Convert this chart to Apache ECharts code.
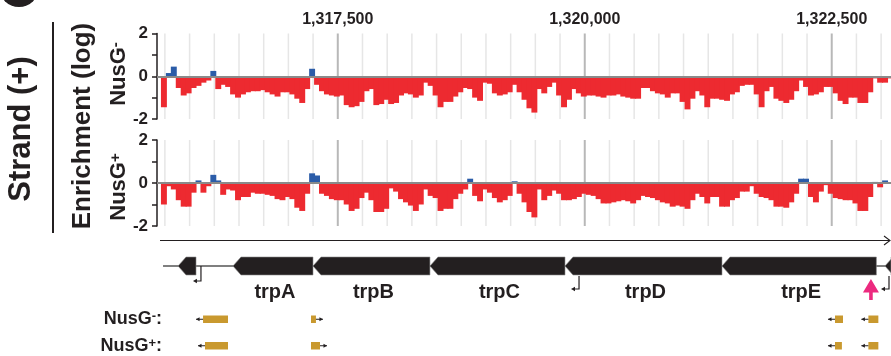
<!DOCTYPE html>
<html><head><meta charset="utf-8">
<script src="https://cdn.jsdelivr.net/npm/echarts@6/dist/echarts.min.js"></script>
<style>html,body{margin:0;padding:0;background:#fff}#c{width:891px;height:356px}</style>
</head><body><div id="c"></div><script>
const FONT = '"Liberation Sans", Arial, Helvetica, sans-serif';
const INK = '#231f20';
const RED = '#ed2a30', BLUE = '#2b5ca8', GOLD = '#c9992f', PINK = '#ec2a7f';

// ---- data ----
const binStart = 1315710, binSize = 50;
const nusGminus = [
 -1.45, 0.15, 0.45, -0.55, -0.9, -0.8, -0.55, -0.45, -0.3, -0.2,
 0.25, -0.6, -0.4, -0.5, -0.85, -1.0, -0.85, -0.75, -0.7, -0.7,
 -0.65, -0.75, -0.85, -0.95, -0.75, -0.75, -0.85, -1.05, -1.25, -0.6,
 0.35, -0.4, -0.7, -0.85, -0.9, -0.95, -0.9, -1.35, -1.45, -1.4,
 -1.2, -0.7, -0.6, -1.35, -1.3, -1.1, -1.3, -1.25, -0.9, -0.8,
 -0.85, -1.0, -0.9, -0.3, -0.45, -0.9, -1.45, -1.2, -1.2, -0.95, -0.75,
 -0.55, -0.6, -1.0, -1.15, -0.3, -0.35, -0.8, -0.9, -0.85, -0.75,
 -0.4, -0.75, -1.1, -1.5, -1.7, -0.6, -0.8, -0.5, -0.3, -0.9,
 -1.45, -1.1, -0.6, -0.8, -0.95, -0.9, -0.9, -0.95, -1.0, -0.9,
 -0.9, -0.85, -0.95, -1.0, -1.05, -1.05, -0.55, -0.55, -0.7, -0.8,
 -0.85, -1.0, -0.8, -0.8, -1.2, -1.55, -1.05, -0.7, -0.9, -1.45,
 -1.05, -1.05, -1.1, -1.15, -0.85, -0.75, -0.45, -0.4, -0.4, -0.85,
 -1.45, -0.7, -0.5, -1.05, -1.15, -1.25, -1.1, -0.7, -0.2, -0.5,
 -0.9, -0.85, -0.75, -0.5, -0.5, -0.8, -1.15, -1.3, -1.0, -1.0,
 -1.25, -1.25, -0.75, -0.1, -0.3, -0.3, -0.1
];
const nusGplus = [
 -1.0, -0.15, -0.3, -0.8, -1.1, -1.1, -0.45, 0.12, -0.45, -0.15,
 0.38, 0.12, -0.55, -0.3, -0.35, -0.8, -0.65, -0.65, -0.45, -0.5,
 -0.5, -0.55, -0.6, -0.75, -0.8, -0.65, -0.75, -1.15, -1.3, -0.5,
 0.45, 0.35, -0.5, -0.6, -0.75, -0.8, -0.8, -1.0, -1.3, -1.2,
 -0.7, -0.45, -0.8, -1.35, -1.35, -1.2, -0.25, -0.4, -0.75, -0.9,
 -1.05, -1.3, -1.0, -0.3, -0.6, -0.7, -1.3, -1.2, -1.2, -0.75, -0.5,
 -0.3, 0.2, -0.6, -0.85, -0.3, -0.45, -0.7, -0.9, -0.8, -0.6,
 0.08, -0.5, -0.9, -1.35, -1.6, -0.3, -0.8, -0.6, -0.35, -0.5,
 -0.8, -0.8, -0.75, -0.65, -0.5, -0.55, -0.6, -0.75, -0.95, -0.95,
 -0.9, -0.85, -0.8, -0.85, -0.95, -0.8, -0.6, -0.65, -0.7, -0.8,
 -0.9, -0.95, -1.1, -1.05, -1.1, -1.2, -0.8, -0.5, -0.65, -0.95,
 -0.65, -0.65, -1.1, -1.1, -0.8, -0.7, -0.4, -0.4, -0.15, -0.5,
 -0.65, -0.7, -0.8, -1.1, -1.1, -1.15, -0.9, -0.5, 0.2, 0.2,
 -0.65, -0.9, -0.4, -0.1, -0.5, -0.7, -0.75, -0.8, -0.8, -0.95,
 -1.3, -1.3, -0.65, 0.05, -0.2, 0.12, 0.0
];
const axisMin = 1315670, axisMax = 1323100;
const topTickValues = [1317500, 1320000, 1322500];
const yTickValues = [-2, 0, 2];
const gridStep = 250, majorStep = 2500;

const geneNames  = ['', 'trpA', 'trpB', 'trpC', 'trpD', 'trpE', ''];
const geneStarts = [1315883, 1316439, 1317249, 1318433, 1319800, 1321389, 1323039];
const geneEnds   = [1316065, 1317249, 1318433, 1319800, 1321389, 1322952, 1323300];
const backbone = [1315731, 1323100];
const promoters = [1316115, 1319942, 1323080];
const highlight = [1322897];

const peakRows = ['NusG-', 'NusG+'];
const peakRow   = ['NusG-','NusG-','NusG-','NusG-','NusG+','NusG+','NusG+','NusG+'];
const peakStart = [1316136, 1317229, 1322533, 1322871, 1316156, 1317229, 1322533, 1322871];
const peakEnd   = [1316389, 1317279, 1322614, 1322972, 1316389, 1317320, 1322603, 1322972];
const peakDir   = [-1, 1, -1, -1, -1, 1, -1, -1];

// ---- build ----
const toBins = arr => arr.map((v, i) => [binStart + i * binSize, binStart + (i + 1) * binSize, v]);
const gridPos = [];
for (let p = Math.ceil(axisMin / gridStep) * gridStep; p <= axisMax; p += gridStep) gridPos.push(p);

function renderBars(params, api) {
  const s = api.value(0), e = api.value(1), v = api.value(2);
  const cs = params.coordSys;
  const p0 = api.coord([s, 0]), p1 = api.coord([e, v]);
  const x0 = Math.max(p0[0], cs.x), x1 = Math.min(p1[0] + 1, cs.x + cs.width);
  if (x1 <= x0) return null;
  return { type: 'rect', shape: { x: x0, y: Math.min(p0[1], p1[1]), width: x1 - x0, height: Math.abs(p1[1] - p0[1]) },
    style: { fill: v >= 0 ? BLUE : RED } };
}
function gridRenderer(extraBottom) {
  return function (params, api) {
    const v = api.value(0), cs = params.coordSys;
    const p = api.coord([v, 0]);
    const major = v % majorStep === 0;
    return { type: 'line', shape: { x1: p[0], y1: cs.y - 3, x2: p[0], y2: cs.y + cs.height + extraBottom },
      style: { stroke: major ? '#b8b8b8' : '#e6e6e6', lineWidth: major ? 2 : 1.5 } };
  };
}
function trackSeries(idx, values) {
  return [
    { type: 'custom', xAxisIndex: idx, yAxisIndex: idx, z: 1, silent: true, clip: true,
      data: gridPos.map(p => [p]), encode: { x: 0 }, renderItem: gridRenderer(idx === 0 ? 22 : 4) },
    { type: 'custom', xAxisIndex: idx, yAxisIndex: idx, z: 2, silent: true,
      data: toBins(values), encode: { x: [0, 1], y: 2 }, renderItem: renderBars,
      markLine: { silent: true, symbol: 'none', label: { show: false }, animation: false,
        lineStyle: { color: '#8a8a8a', width: 2, type: 'solid' }, data: [{ yAxis: 0 }] } }
  ];
}

const gridsDef = [
  { left: 157, width: 734, top: 33.5, height: 85.5 },
  { left: 157, width: 734, top: 140, height: 86 },
  { left: 157, width: 734, top: 257, height: 18 },
  { left: 157, width: 734, top: 306, height: 53 }
].map(g => Object.assign({ outerBoundsMode: 'none', containLabel: false }, g));

const baseX = i => ({ type: 'value', gridIndex: i, min: axisMin, max: axisMax, show: false });
const trackY = i => ({
  type: 'value', gridIndex: i, min: -2, max: 2, interval: 1,
  axisLine: { show: true, lineStyle: { color: INK, width: 1.5 } },
  axisTick: { show: true, length: 5, lineStyle: { color: INK, width: 1.5 } },
  splitLine: { show: false },
  axisLabel: { margin: 9, color: INK, fontFamily: FONT, fontWeight: 'bold', fontSize: 17,
    formatter: v => yTickValues.indexOf(v) >= 0 ? String(v) : '' }
});

const xAxes = [baseX(0), baseX(1), baseX(2), baseX(3)];
xAxes[0] = {
  type: 'value', gridIndex: 0, min: axisMin, max: axisMax, position: 'top',
  axisLine: { show: false }, axisTick: { show: false }, splitLine: { show: false },
  axisLabel: { show: true, customValues: topTickValues, margin: 6, color: INK, fontFamily: FONT,
    fontWeight: 'bold', fontSize: 16, formatter: v => Number(v).toLocaleString('en-US') }
};

const option = {
  animation: false,
  backgroundColor: '#fff',
  grid: gridsDef,
  xAxis: xAxes,
  yAxis: [
    trackY(0), trackY(1),
    { type: 'value', gridIndex: 2, min: 0, max: 1, show: false },
    { type: 'category', gridIndex: 3, data: peakRows, inverse: true,
      axisLine: { show: false }, axisTick: { show: false }, splitLine: { show: false },
      axisLabel: { margin: -5, fontFamily: FONT,
        formatter: v => '{n|NusG}{s|' + (v === 'NusG-' ? '-' : '+') + '}{n|:}',
        rich: { n: { fontSize: 18, fontWeight: 'bold', color: INK, fontFamily: FONT },
                s: { fontSize: 13, fontWeight: 'bold', color: INK, fontFamily: FONT, verticalAlign: 'top' } } } }
  ],
  series: [
    ...trackSeries(0, nusGminus),
    ...trackSeries(1, nusGplus),
    { type: 'custom', xAxisIndex: 2, yAxisIndex: 2, z: 1, silent: true, clip: true,
      data: [backbone], encode: { x: [0, 1] },
      renderItem: (params, api) => {
        const a = api.coord([api.value(0), 0.5]), b = api.coord([api.value(1), 0.5]);
        return { type: 'line', shape: { x1: a[0], y1: a[1], x2: b[0], y2: b[1] }, style: { stroke: '#555', lineWidth: 1.3 } };
      } },
    { type: 'custom', xAxisIndex: 2, yAxisIndex: 2, z: 2, silent: true, clip: false,
      data: geneStarts.map((s, i) => [s, geneEnds[i]]), encode: { x: [0, 1] },
      renderItem: (params, api) => {
        const cs = params.coordSys;
        const s = api.coord([api.value(0), 1]), e = api.coord([api.value(1), 0]);
        const mid = api.coord([api.value(0), 0.5]);
        const head = 8;
        const top = s[1], bot = e[1];
        const ex = Math.min(e[0], cs.x + cs.width);
        const children = [{ type: 'polygon', shape: { points: [[s[0], mid[1]], [s[0] + head, top], [ex, top], [ex, bot], [s[0] + head, bot]] },
          style: { fill: INK, stroke: '#8a8a8a', lineWidth: 0.6 } }];
        const name = geneNames[params.dataIndex];
        if (name) children.push({ type: 'text', x: (s[0] + e[0]) / 2 + 2, y: bot + 17,
          style: { text: name, align: 'center', verticalAlign: 'middle', font: 'bold 20px ' + FONT, fill: INK } });
        return { type: 'group', children };
      } },
    { type: 'custom', xAxisIndex: 2, yAxisIndex: 2, z: 3, silent: true, clip: false,
      data: promoters.map(p => [p]), encode: { x: 0 },
      renderItem: (params, api) => {
        const v = api.value(0);
        const inGene = geneStarts.some((s, i) => v > s && v < geneEnds[i]);
        const m = api.coord([v, 0.5]), b = api.coord([v, 0]);
        const y0 = inGene ? b[1] + 1 : m[1];
        const y1 = y0 + (inGene ? 13 : 15);
        const x = Math.min(m[0], 889);
        return { type: 'group', children: [
          { type: 'polyline', shape: { points: [[x, y0], [x, y1], [x - 6, y1]] }, style: { stroke: INK, lineWidth: 1.2, fill: null } },
          { type: 'polygon', shape: { points: [[x - 8, y1], [x - 4, y1 - 2.2], [x - 4, y1 + 2.2]] }, style: { fill: INK } }
        ] };
      } },
    { type: 'custom', xAxisIndex: 2, yAxisIndex: 2, z: 3, silent: true, clip: false,
      data: highlight.map(p => [p]), encode: { x: 0 },
      renderItem: (params, api) => {
        const p = api.coord([api.value(0), 0]);
        const x = p[0], y = p[1] + 4;
        return { type: 'polygon', shape: { points: [[x, y], [x + 8, y + 13.5], [x + 1.8, y + 13.5], [x + 1.8, y + 21], [x - 1.8, y + 21], [x - 1.8, y + 13.5], [x - 8, y + 13.5]] },
          style: { fill: PINK } };
      } },
    { type: 'custom', xAxisIndex: 3, yAxisIndex: 3, z: 3, silent: true,
      data: peakStart.map((s, i) => [s, peakEnd[i], peakRow[i], peakDir[i]]),
      dimensions: [{ name: 's', type: 'number' }, { name: 'e', type: 'number' }, { name: 'row', type: 'ordinal' }, { name: 'dir', type: 'number' }],
      encode: { x: [0, 1], y: 2 },
      renderItem: (params, api) => {
        const row = api.value(2), dir = api.value(3);
        const a = api.coord([api.value(0), row]), b = api.coord([api.value(1), row]);
        const y = a[1], h = 7.5;
        const x0 = dir < 0 ? a[0] : b[0];
        const tip = x0 + dir * 7;
        return { type: 'group', children: [
          { type: 'rect', shape: { x: a[0], y: y - h / 2, width: Math.max(b[0] - a[0], 4), height: h }, style: { fill: GOLD } },
          { type: 'line', shape: { x1: x0, y1: y, x2: tip, y2: y }, style: { stroke: INK, lineWidth: 1 } },
          { type: 'polygon', shape: { points: [[tip, y], [tip - dir * 3.5, y - 2], [tip - dir * 3.5, y + 2]] }, style: { fill: INK } }
        ] };
      } }
  ],
  graphic: [
    { type: 'circle', shape: { cx: 19, cy: -13, r: 20 }, style: { fill: INK }, silent: true },
    { type: 'text', x: 21, y: 129, rotation: Math.PI / 2, silent: true,
      style: { text: 'Strand (+)', align: 'center', verticalAlign: 'middle', font: 'bold 31px ' + FONT, fill: INK } },
    { type: 'line', shape: { x1: 53, y1: 22, x2: 53, y2: 233 }, style: { stroke: INK, lineWidth: 2 }, silent: true },
    { type: 'text', x: 83, y: 126, rotation: Math.PI / 2, silent: true,
      style: { text: 'Enrichment (log)', align: 'center', verticalAlign: 'middle', font: 'bold 26px ' + FONT, fill: INK } },
    { type: 'text', x: 119, y: 74, rotation: Math.PI / 2, silent: true,
      style: { text: '{n|NusG}{s|-}', align: 'center', verticalAlign: 'middle', fill: INK,
        rich: { n: { font: 'bold 22px ' + FONT, fill: INK }, s: { font: 'bold 15px ' + FONT, fill: INK, verticalAlign: 'top' } } } },
    { type: 'text', x: 119, y: 187, rotation: Math.PI / 2, silent: true,
      style: { text: '{n|NusG}{s|+}', align: 'center', verticalAlign: 'middle', fill: INK,
        rich: { n: { font: 'bold 22px ' + FONT, fill: INK }, s: { font: 'bold 15px ' + FONT, fill: INK, verticalAlign: 'top' } } } },
    { type: 'polyline', shape: { points: [[160, 240.5], [890, 240.5]] }, style: { stroke: INK, lineWidth: 1.1, fill: null }, silent: true },
    { type: 'polyline', shape: { points: [[884, 236], [890, 240.5], [884, 245]] }, style: { stroke: INK, lineWidth: 1.1, fill: null }, silent: true }
  ]
};

const chart = echarts.init(document.getElementById('c'), null, { renderer: 'canvas' });
chart.setOption(option);
</script></body></html>
